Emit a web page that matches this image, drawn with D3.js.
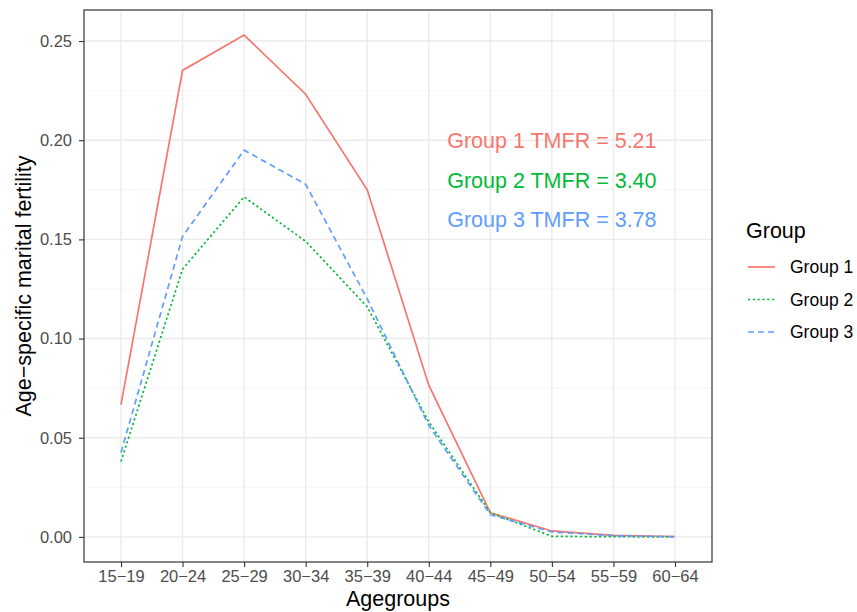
<!DOCTYPE html>
<html>
<head>
<meta charset="utf-8">
<script src="https://cdn.jsdelivr.net/npm/d3@7"></script>
<style>
  body { margin: 0; background: #fff; }
  text { font-family: "Liberation Sans", Arial, Helvetica, sans-serif; }
</style>
</head>
<body>
<svg id="chart" width="857" height="612"></svg>
<script>
const ageGroups = ["15-19","20-24","25-29","30-34","35-39","40-44","45-49","50-54","55-59","60-64"];
const group1 = [0.0667, 0.2352, 0.2530, 0.2232, 0.1750, 0.0765, 0.0122, 0.0030, 0.0008, 0.0002];
const group2 = [0.0380, 0.1350, 0.1714, 0.1490, 0.1160, 0.0580, 0.0122, 0.0003, 0.0001, 0.0000];
const group3 = [0.0425, 0.1515, 0.1950, 0.1778, 0.1200, 0.0562, 0.0112, 0.0025, 0.0006, 0.0001];
const groupNames = ["Group 1","Group 2","Group 3"];
const groupColors = ["#F8766D","#00BA38","#619CFF"];
const groupDash = [null, "2.2,2.6", "6,4"];
const yTicks = [0, 0.05, 0.10, 0.15, 0.20, 0.25];
const yMinor = [0.025, 0.075, 0.125, 0.175, 0.225];
const annotations = [
  {label: "Group 1 TMFR = 5.21", x: "50-54", y: 0.20},
  {label: "Group 2 TMFR = 3.40", x: "50-54", y: 0.18},
  {label: "Group 3 TMFR = 3.78", x: "50-54", y: 0.16}
];
const series = [group1, group2, group3];

const svg = d3.select("#chart");
const panel = {left: 84, right: 712, top: 10, bottom: 562};

const x = d3.scalePoint().domain(ageGroups).range([121, 675]);
const yMax = d3.max(series.flat());
const yPad = yMax * 0.05;
const y = d3.scaleLinear().domain([-yPad, yMax + yPad]).range([panel.bottom, panel.top]);

const g = svg.append("g");
g.append("rect").attr("x", panel.left).attr("y", panel.top)
  .attr("width", panel.right - panel.left).attr("height", panel.bottom - panel.top)
  .attr("fill", "#fff");

// minor grid
g.selectAll(".ymin").data(yMinor).enter().append("line")
  .attr("x1", panel.left).attr("x2", panel.right)
  .attr("y1", d => y(d)).attr("y2", d => y(d))
  .attr("stroke", "#f2f2f2").attr("stroke-width", 0.75);
// major grid
g.selectAll(".ymaj").data(yTicks).enter().append("line")
  .attr("x1", panel.left).attr("x2", panel.right)
  .attr("y1", d => y(d)).attr("y2", d => y(d))
  .attr("stroke", "#ebebeb").attr("stroke-width", 1.4);
g.selectAll(".xmaj").data(ageGroups).enter().append("line")
  .attr("y1", panel.top).attr("y2", panel.bottom)
  .attr("x1", d => x(d)).attr("x2", d => x(d))
  .attr("stroke", "#ebebeb").attr("stroke-width", 1.4);

// lines
const line = d3.line().x((d, i) => x(ageGroups[i])).y(d => y(d));
series.forEach((s, k) => {
  const p = g.append("path").datum(s).attr("d", line)
    .attr("fill", "none").attr("stroke", groupColors[k]).attr("stroke-width", 1.7);
  if (groupDash[k]) p.attr("stroke-dasharray", groupDash[k]);
});

// annotations
annotations.forEach((a, k) => {
  g.append("text").attr("x", x(a.x)).attr("y", y(a.y))
    .attr("dy", "0.36em").attr("text-anchor", "middle")
    .attr("font-size", 21.5).attr("fill", groupColors[k]).text(a.label);
});

// border
g.append("rect").attr("x", panel.left).attr("y", panel.top)
  .attr("width", panel.right - panel.left).attr("height", panel.bottom - panel.top)
  .attr("fill", "none").attr("stroke", "#333333").attr("stroke-width", 1.2);

// axes
const xAxis = svg.append("g").attr("transform", `translate(0,${panel.bottom})`)
  .call(d3.axisBottom(x).tickSize(5).tickPadding(3));
xAxis.select(".domain").remove();
xAxis.selectAll("line").attr("stroke", "#333333").attr("stroke-width", 1.1);
xAxis.selectAll("text").attr("fill", "#4d4d4d").attr("font-size", 16.5)
  .attr("font-family", "Liberation Sans, Arial, sans-serif")
  .text(d => d.replace("-", "\u2212"));

const yAxis = svg.append("g").attr("transform", `translate(${panel.left},0)`)
  .call(d3.axisLeft(y).tickValues(yTicks).tickFormat(d3.format(".2f")).tickSize(5).tickPadding(7));
yAxis.select(".domain").remove();
yAxis.selectAll("line").attr("stroke", "#333333").attr("stroke-width", 1.1);
yAxis.selectAll("text").attr("fill", "#4d4d4d").attr("font-size", 16.5)
  .attr("font-family", "Liberation Sans, Arial, sans-serif");

// axis titles
svg.append("text").attr("x", (panel.left + panel.right) / 2).attr("y", 606)
  .attr("text-anchor", "middle").attr("font-size", 21.5).attr("fill", "#000").text("Agegroups");
svg.append("text").attr("transform", `translate(31,${(panel.top + panel.bottom) / 2}) rotate(-90)`)
  .attr("text-anchor", "middle").attr("font-size", 21.5).attr("fill", "#000").text("Age\u2212specific marital fertility");

// legend
const lg = svg.append("g");
lg.append("text").attr("x", 746).attr("y", 238).attr("font-size", 21.5).attr("fill", "#000").text("Group");
groupNames.forEach((nm, k) => {
  const cy = 267 + k * 32.5;
  const l = lg.append("line").attr("x1", 748).attr("x2", 775).attr("y1", cy).attr("y2", cy)
    .attr("stroke", groupColors[k]).attr("stroke-width", 1.7);
  if (groupDash[k]) l.attr("stroke-dasharray", groupDash[k]);
  lg.append("text").attr("x", 790).attr("y", cy).attr("dy", "0.36em")
    .attr("font-size", 17.5).attr("fill", "#000").text(nm);
});
</script>
</body>
</html>
